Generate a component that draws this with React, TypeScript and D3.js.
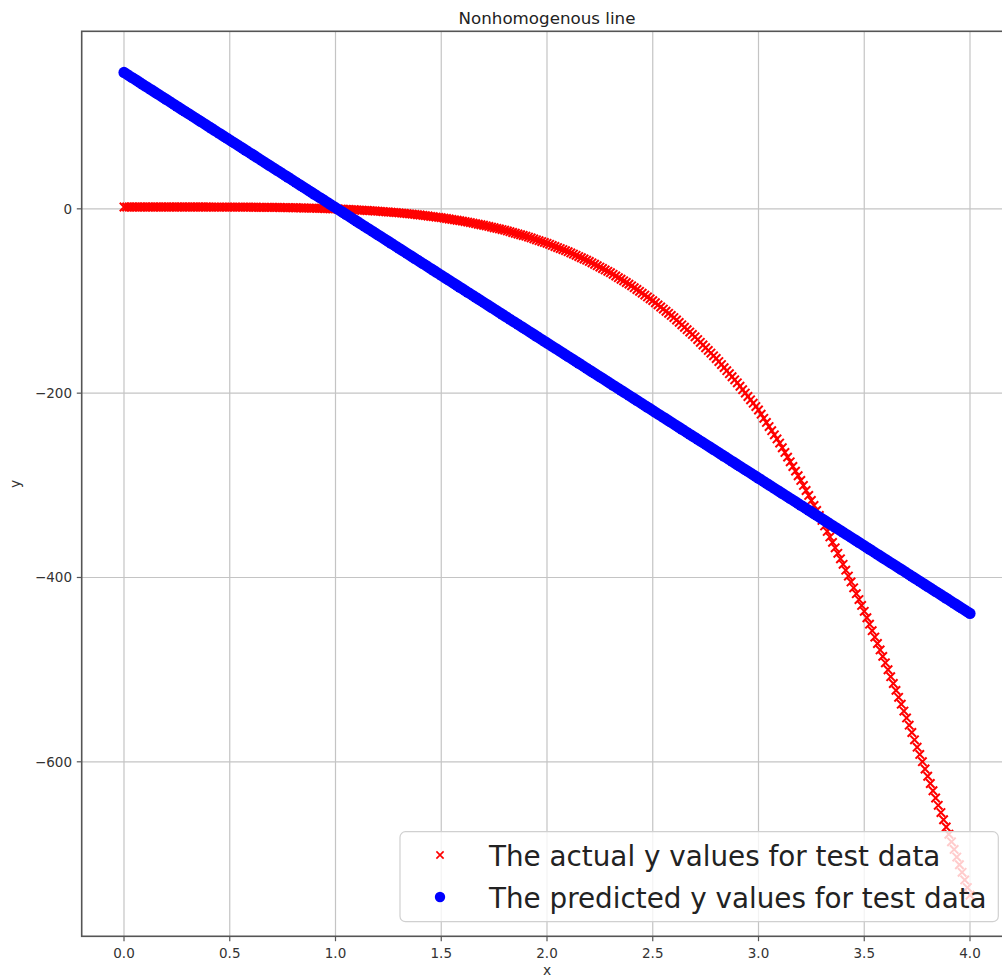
import React from "react";
import * as d3 from "d3";

// test data x values
const xTest = [
  0, 0.0125, 0.025, 0.0375, 0.05, 0.0625, 0.075, 0.0875, 0.1, 0.1125, 0.125, 0.1375, 0.15, 0.1625, 0.175, 0.1875,
  0.2, 0.2125, 0.225, 0.2375, 0.25, 0.2625, 0.275, 0.2875, 0.3, 0.3125, 0.325, 0.3375, 0.35, 0.3625, 0.375, 0.3875,
  0.4, 0.4125, 0.425, 0.4375, 0.45, 0.4625, 0.475, 0.4875, 0.5, 0.5125, 0.525, 0.5375, 0.55, 0.5625, 0.575, 0.5875,
  0.6, 0.6125, 0.625, 0.6375, 0.65, 0.6625, 0.675, 0.6875, 0.7, 0.7125, 0.725, 0.7375, 0.75, 0.7625, 0.775, 0.7875,
  0.8, 0.8125, 0.825, 0.8375, 0.85, 0.8625, 0.875, 0.8875, 0.9, 0.9125, 0.925, 0.9375, 0.95, 0.9625, 0.975, 0.9875,
  1.0, 1.0125, 1.025, 1.0375, 1.05, 1.0625, 1.075, 1.0875, 1.1, 1.1125, 1.125, 1.1375, 1.15, 1.1625, 1.175, 1.1875,
  1.2, 1.2125, 1.225, 1.2375, 1.25, 1.2625, 1.275, 1.2875, 1.3, 1.3125, 1.325, 1.3375, 1.35, 1.3625, 1.375, 1.3875,
  1.4, 1.4125, 1.425, 1.4375, 1.45, 1.4625, 1.475, 1.4875, 1.5, 1.5125, 1.525, 1.5375, 1.55, 1.5625, 1.575, 1.5875,
  1.6, 1.6125, 1.625, 1.6375, 1.65, 1.6625, 1.675, 1.6875, 1.7, 1.7125, 1.725, 1.7375, 1.75, 1.7625, 1.775, 1.7875,
  1.8, 1.8125, 1.825, 1.8375, 1.85, 1.8625, 1.875, 1.8875, 1.9, 1.9125, 1.925, 1.9375, 1.95, 1.9625, 1.975, 1.9875,
  2.0, 2.0125, 2.025, 2.0375, 2.05, 2.0625, 2.075, 2.0875, 2.1, 2.1125, 2.125, 2.1375, 2.15, 2.1625, 2.175, 2.1875,
  2.2, 2.2125, 2.225, 2.2375, 2.25, 2.2625, 2.275, 2.2875, 2.3, 2.3125, 2.325, 2.3375, 2.35, 2.3625, 2.375, 2.3875,
  2.4, 2.4125, 2.425, 2.4375, 2.45, 2.4625, 2.475, 2.4875, 2.5, 2.5125, 2.525, 2.5375, 2.55, 2.5625, 2.575, 2.5875,
  2.6, 2.6125, 2.625, 2.6375, 2.65, 2.6625, 2.675, 2.6875, 2.7, 2.7125, 2.725, 2.7375, 2.75, 2.7625, 2.775, 2.7875,
  2.8, 2.8125, 2.825, 2.8375, 2.85, 2.8625, 2.875, 2.8875, 2.9, 2.9125, 2.925, 2.9375, 2.95, 2.9625, 2.975, 2.9875,
  3.0, 3.0125, 3.025, 3.0375, 3.05, 3.0625, 3.075, 3.0875, 3.1, 3.1125, 3.125, 3.1375, 3.15, 3.1625, 3.175, 3.1875,
  3.2, 3.2125, 3.225, 3.2375, 3.25, 3.2625, 3.275, 3.2875, 3.3, 3.3125, 3.325, 3.3375, 3.35, 3.3625, 3.375, 3.3875,
  3.4, 3.4125, 3.425, 3.4375, 3.45, 3.4625, 3.475, 3.4875, 3.5, 3.5125, 3.525, 3.5375, 3.55, 3.5625, 3.575, 3.5875,
  3.6, 3.6125, 3.625, 3.6375, 3.65, 3.6625, 3.675, 3.6875, 3.7, 3.7125, 3.725, 3.7375, 3.75, 3.7625, 3.775, 3.7875,
  3.8, 3.8125, 3.825, 3.8375, 3.85, 3.8625, 3.875, 3.8875, 3.9, 3.9125, 3.925, 3.9375, 3.95, 3.9625, 3.975, 3.9875,
  4.0,
];

// actual y (red crosses)
const yActual = [
  2.0, 2.0, 2.0, 2.0, 2.0, 2.0, 2.0, 2.0, 2.0, 2.0, 2.0, 2.0, 2.0, 2.0, 2.0, 2.0,
  2.0, 2.0, 2.0, 2.0, 2.0, 2.0, 2.0, 2.0, 2.0, 2.0, 2.0, 2.0, 2.0, 2.0, 2.0, 2.0,
  2.0, 1.95, 1.9, 1.9, 1.9, 1.9, 1.9, 1.9, 1.9, 1.9, 1.9, 1.85, 1.8, 1.8, 1.8, 1.8,
  1.8, 1.75, 1.7, 1.65, 1.6, 1.6, 1.6, 1.55, 1.5, 1.5, 1.5, 1.45, 1.4, 1.35, 1.3, 1.25,
  1.2, 1.15, 1.1, 1.0, 0.9, 0.85, 0.8, 0.75, 0.7, 0.6, 0.5, 0.4, 0.3, 0.2, 0.1, 0.0,
  -0.1, -0.2, -0.3, -0.45, -0.6, -0.75, -0.9, -1.0, -1.1, -1.3, -1.5, -1.65, -1.8, -2.0, -2.2, -2.35,
  -2.5, -2.75, -3.0, -3.2, -3.4, -3.65, -3.9, -4.1, -4.3, -4.6, -4.9, -5.2, -5.5, -5.8, -6.1, -6.4,
  -6.7, -7.05, -7.4, -7.8, -8.2, -8.55, -8.9, -9.25, -9.6, -10.05, -10.5, -11.0, -11.5, -11.95, -12.4, -12.85,
  -13.3, -13.85, -14.4, -14.95, -15.5, -16.1, -16.7, -17.25, -17.8, -18.45, -19.1, -19.8, -20.5, -21.15, -21.8, -22.5,
  -23.2, -24.0, -24.8, -25.65, -26.5, -27.3, -28.1, -28.9, -29.7, -30.65, -31.6, -32.6, -33.6, -34.55, -35.5, -36.45,
  -37.4, -38.55, -39.7, -40.85, -42.0, -43.1, -44.2, -45.35, -46.5, -47.8, -49.1, -50.45, -51.8, -53.1, -54.4, -55.75,
  -57.1, -58.6, -60.1, -61.65, -63.2, -64.75, -66.3, -67.8, -69.3, -71.1, -72.9, -74.65, -76.4, -78.15, -79.9, -81.7,
  -83.5, -85.5, -87.5, -89.5, -91.5, -93.55, -95.6, -97.6, -99.6, -101.9, -104.2, -106.5, -108.8, -111.1, -113.4, -115.7,
  -118.0, -120.6, -123.2, -125.85, -128.5, -131.1, -133.7, -136.3, -138.9, -141.85, -144.8, -147.75, -150.7, -153.6, -156.5, -159.45,
  -162.4, -165.7, -169.0, -172.3, -175.6, -178.9, -182.2, -185.5, -188.8, -192.5, -196.2, -199.9, -203.6, -207.25, -210.9, -214.6,
  -218.3, -222.8, -227.3, -231.8, -236.3, -240.75, -245.2, -249.7, -254.2, -259.25, -264.3, -269.4, -274.5, -279.55, -284.6, -289.65,
  -294.7, -300.15, -305.6, -311.0, -316.4, -321.85, -327.3, -332.7, -338.1, -344.05, -350.0, -355.95, -361.9, -367.85, -373.8, -379.75,
  -385.7, -392.1, -398.5, -404.85, -411.2, -417.6, -424.0, -430.35, -436.7, -443.7, -450.7, -457.7, -464.7, -471.65, -478.6, -485.6,
  -492.6, -500.1, -507.6, -515.05, -522.5, -530.0, -537.5, -544.95, -552.4, -560.3, -568.2, -576.15, -584.1, -592.0, -599.9, -607.8,
  -615.7, -623.55, -631.4, -639.3, -647.2, -655.05, -662.9, -670.75, -678.6, -686.85, -695.1, -703.4, -711.7, -719.95, -728.2, -736.45,
  -744.7,
];

// predicted y (blue dots)
const yPredicted = [
  148.0, 146.2, 144.3, 142.5, 140.7, 138.9, 137.0, 135.2, 133.3, 131.5, 129.7, 127.9, 126.0, 124.2, 122.3, 120.5,
  118.7, 116.9, 115.0, 113.2, 111.3, 109.5, 107.6, 105.8, 104.0, 102.2, 100.3, 98.5, 96.6, 94.8, 93.0, 91.2,
  89.3, 87.5, 85.6, 83.8, 82.0, 80.2, 78.3, 76.5, 74.6, 72.8, 71.0, 69.2, 67.3, 65.5, 63.6, 61.8,
  60.0, 58.2, 56.3, 54.5, 52.6, 50.8, 48.9, 47.1, 45.3, 43.5, 41.6, 39.8, 37.9, 36.1, 34.3, 32.5,
  30.6, 28.8, 26.9, 25.1, 23.3, 21.5, 19.6, 17.8, 15.9, 14.1, 12.3, 10.5, 8.6, 6.8, 4.9, 3.1,
  1.3, -0.6, -2.4, -4.2, -6.1, -7.9, -9.8, -11.6, -13.4, -15.3, -17.1, -18.9, -20.8, -22.6, -24.4, -26.3,
  -28.1, -29.9, -31.8, -33.6, -35.4, -37.3, -39.1, -40.9, -42.8, -44.6, -46.4, -48.3, -50.1, -51.9, -53.8, -55.6,
  -57.5, -59.3, -61.1, -63.0, -64.8, -66.6, -68.5, -70.3, -72.1, -74.0, -75.8, -77.6, -79.5, -81.3, -83.1, -85.0,
  -86.8, -88.6, -90.5, -92.3, -94.1, -96.0, -97.8, -99.6, -101.5, -103.3, -105.1, -107.0, -108.8, -110.6, -112.5, -114.3,
  -116.2, -118.0, -119.8, -121.7, -123.5, -125.3, -127.2, -129.0, -130.8, -132.7, -134.5, -136.3, -138.2, -140.0, -141.8, -143.7,
  -145.5, -147.3, -149.2, -151.0, -152.8, -154.7, -156.5, -158.3, -160.2, -162.0, -163.8, -165.7, -167.5, -169.3, -171.2, -173.0,
  -174.9, -176.7, -178.5, -180.4, -182.2, -184.0, -185.9, -187.7, -189.5, -191.4, -193.2, -195.0, -196.9, -198.7, -200.5, -202.4,
  -204.2, -206.0, -207.9, -209.7, -211.5, -213.4, -215.2, -217.0, -218.9, -220.7, -222.6, -224.4, -226.2, -228.0, -229.9, -231.7,
  -233.6, -235.4, -237.2, -239.1, -240.9, -242.7, -244.6, -246.4, -248.2, -250.1, -251.9, -253.7, -255.6, -257.4, -259.2, -261.1,
  -262.9, -264.7, -266.6, -268.4, -270.2, -272.1, -273.9, -275.7, -277.6, -279.4, -281.3, -283.1, -284.9, -286.7, -288.6, -290.4,
  -292.3, -294.1, -295.9, -297.8, -299.6, -301.4, -303.3, -305.1, -306.9, -308.8, -310.6, -312.4, -314.3, -316.1, -317.9, -319.8,
  -321.6, -323.4, -325.3, -327.1, -328.9, -330.8, -332.6, -334.4, -336.3, -338.1, -340.0, -341.8, -343.6, -345.5, -347.3, -349.1,
  -351.0, -352.8, -354.6, -356.5, -358.3, -360.1, -362.0, -363.8, -365.6, -367.5, -369.3, -371.1, -373.0, -374.8, -376.6, -378.5,
  -380.3, -382.1, -384.0, -385.8, -387.6, -389.5, -391.3, -393.1, -395.0, -396.8, -398.7, -400.5, -402.3, -404.1, -406.0, -407.8,
  -409.7, -411.5, -413.3, -415.2, -417.0, -418.8, -420.7, -422.5, -424.3, -426.2, -428.0, -429.8, -431.7, -433.5, -435.3, -437.2,
  -439.0,
];

const xTicks = [0, 0.5, 1, 1.5, 2, 2.5, 3, 3.5, 4];
const yTicks = [0, -200, -400, -600];
const legendLabels = [
  "The actual y values for test data",
  "The predicted y values for test data",
];
const title = "Nonhomogenous line";

const W = 1002;
const H = 979;
// axes box (right spine falls just outside the picture)
const ax = { left: 81.7, right: 1012.3, top: 31.3, bottom: 936.3 };
const FONT = "'DejaVu Sans', sans-serif";
const RED = "#ff0000";
const BLUE = "#0000ff";

// matplotlib style 5% margins
const pad = ([lo, hi]: [number, number]): [number, number] => {
  const p = (hi - lo) * 0.05;
  return [lo - p, hi + p];
};

const cross = (s: number) => `M${-s},${-s}L${s},${s}M${-s},${s}L${s},${-s}`;

export default function App() {
  const x = d3
    .scaleLinear()
    .domain(pad(d3.extent(xTest) as [number, number]))
    .range([ax.left, ax.right]);
  const y = d3
    .scaleLinear()
    .domain(pad(d3.extent(yActual.concat(yPredicted)) as [number, number]))
    .range([ax.bottom, ax.top]);

  const fmtX = d3.format(".1f");
  const fmtY = (v: number) => (v < 0 ? "\u2212" + Math.abs(v) : String(v));
  const midX = (ax.left + ax.right) / 2;
  const midY = (ax.top + ax.bottom) / 2;

  // legend box
  const lg = { x: 400, y: 831.7, w: 598.3, h: 90, fs: 27.8 };
  const handleX = 440;
  const textX = 489;
  const rowY = [855, 897];

  return (
    <svg
      width={W}
      height={H}
      style={{ position: "absolute", left: 0, top: 0, display: "block" }}
      fontFamily={FONT}
    >
      <defs>
        <clipPath id="plot-area">
          <rect x={ax.left} y={ax.top} width={ax.right - ax.left} height={ax.bottom - ax.top} />
        </clipPath>
      </defs>
      <rect width={W} height={H} fill="#fff" />

      {/* grid */}
      <g stroke="#c4c4c4" strokeWidth={1.2}>
        {xTicks.map((t) => (
          <line key={"gx" + t} x1={x(t)} x2={x(t)} y1={ax.top} y2={ax.bottom} />
        ))}
        {yTicks.map((t) => (
          <line key={"gy" + t} x1={ax.left} x2={ax.right} y1={y(t)} y2={y(t)} />
        ))}
      </g>

      {/* points */}
      <g clipPath="url(#plot-area)">
        <g stroke={RED} strokeWidth={2} fill="none">
          {xTest.map((xv, i) => (
            <path key={"a" + i} d={cross(4.2)} transform={`translate(${x(xv)},${y(yActual[i])})`} />
          ))}
        </g>
        <g fill={BLUE}>
          {xTest.map((xv, i) => (
            <circle key={"p" + i} cx={x(xv)} cy={y(yPredicted[i])} r={5.6} />
          ))}
        </g>
      </g>

      {/* spines */}
      <rect
        x={ax.left}
        y={ax.top}
        width={ax.right - ax.left}
        height={ax.bottom - ax.top}
        fill="none"
        stroke="#555"
        strokeWidth={1.6}
      />

      {/* ticks */}
      <g fontSize={13.5} fill="#333">
        {xTicks.map((t) => (
          <g key={"tx" + t}>
            <line x1={x(t)} x2={x(t)} y1={ax.bottom} y2={ax.bottom + 4.9} stroke="#555" strokeWidth={1.2} />
            <text x={x(t)} y={958} textAnchor="middle">
              {fmtX(t)}
            </text>
          </g>
        ))}
        {yTicks.map((t) => (
          <g key={"ty" + t}>
            <line x1={ax.left - 4.9} x2={ax.left} y1={y(t)} y2={y(t)} stroke="#555" strokeWidth={1.2} />
            <text x={72} y={y(t)} textAnchor="end" dominantBaseline="central">
              {fmtY(t)}
            </text>
          </g>
        ))}
      </g>

      {/* labels */}
      <text x={midX} y={23.5} textAnchor="middle" fontSize={16.7} fill="#222">
        {title}
      </text>
      <text x={midX} y={975} textAnchor="middle" fontSize={13.9} fill="#333">
        x
      </text>
      <text
        transform={`translate(19.5,${midY}) rotate(-90)`}
        textAnchor="middle"
        fontSize={13.9}
        fill="#333"
      >
        y
      </text>

      {/* legend */}
      <rect
        x={lg.x}
        y={lg.y}
        width={lg.w}
        height={lg.h}
        rx={5.5}
        fill="#fff"
        fillOpacity={0.8}
        stroke="#d0d0d0"
        strokeWidth={1.2}
      />
      <path d={cross(3.6)} transform={`translate(${handleX},${rowY[0]})`} stroke={RED} strokeWidth={1.6} fill="none" />
      <circle cx={handleX} cy={rowY[1]} r={5.2} fill={BLUE} />
      {legendLabels.map((l, i) => (
        <text key={l} x={textX} y={rowY[i] + 10.5} fontSize={lg.fs} fill="#222">
          {l}
        </text>
      ))}
    </svg>
  );
}
